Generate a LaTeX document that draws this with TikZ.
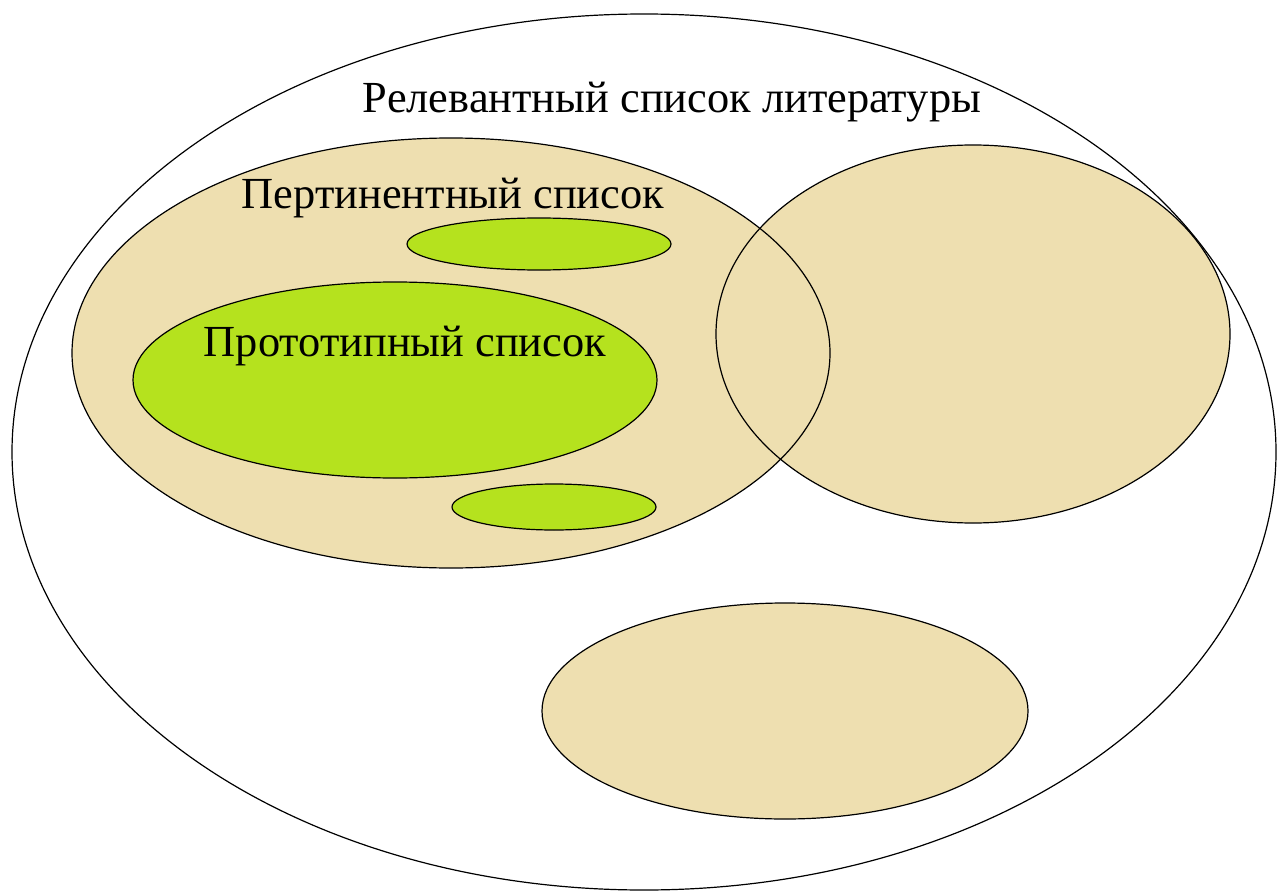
\documentclass[tikz,border=0pt]{standalone}
\usepackage{fontspec}
\setmainfont{Liberation Serif}
\definecolor{beige}{RGB}{238,223,176}
\definecolor{lime}{RGB}{181,226,30}
\begin{document}
\begin{tikzpicture}[x=0.5pt,y=-0.5pt,
  outl/.style={draw=black,line width=0.6pt},
  lbl/.style={inner sep=0pt,font=\fontsize{22.2}{25}\selectfont}]
\useasboundingbox (0,0) rectangle (1278,893);
\fill[white] (0,0) rectangle (1278,893);
% outer
\draw[outl] (644,452) ellipse [x radius=632,y radius=438];
% fills
\fill[beige] (451,353) ellipse [x radius=379,y radius=215];
\fill[beige] (973,334) ellipse [x radius=257,y radius=189];
\fill[beige] (785,711) ellipse [x radius=243,y radius=108];
% outlines of beige
\draw[outl] (451,353) ellipse [x radius=379,y radius=215];
\draw[outl] (973,334) ellipse [x radius=257,y radius=189];
\draw[outl] (785,711) ellipse [x radius=243,y radius=108];
% green
\draw[outl,fill=lime] (395,380) ellipse [x radius=262,y radius=98];
\draw[outl,fill=lime] (539,244) ellipse [x radius=132,y radius=26];
\draw[outl,fill=lime] (554,507) ellipse [x radius=102,y radius=23];
% labels
\node[lbl] (rel) at (672,102) {Релевантный список литературы};
\node[lbl] (pert) at (453,198) {Пертинентный список};
\node[lbl] (proto) at (405,346) {Прототипный список};
\end{tikzpicture}
\end{document}
